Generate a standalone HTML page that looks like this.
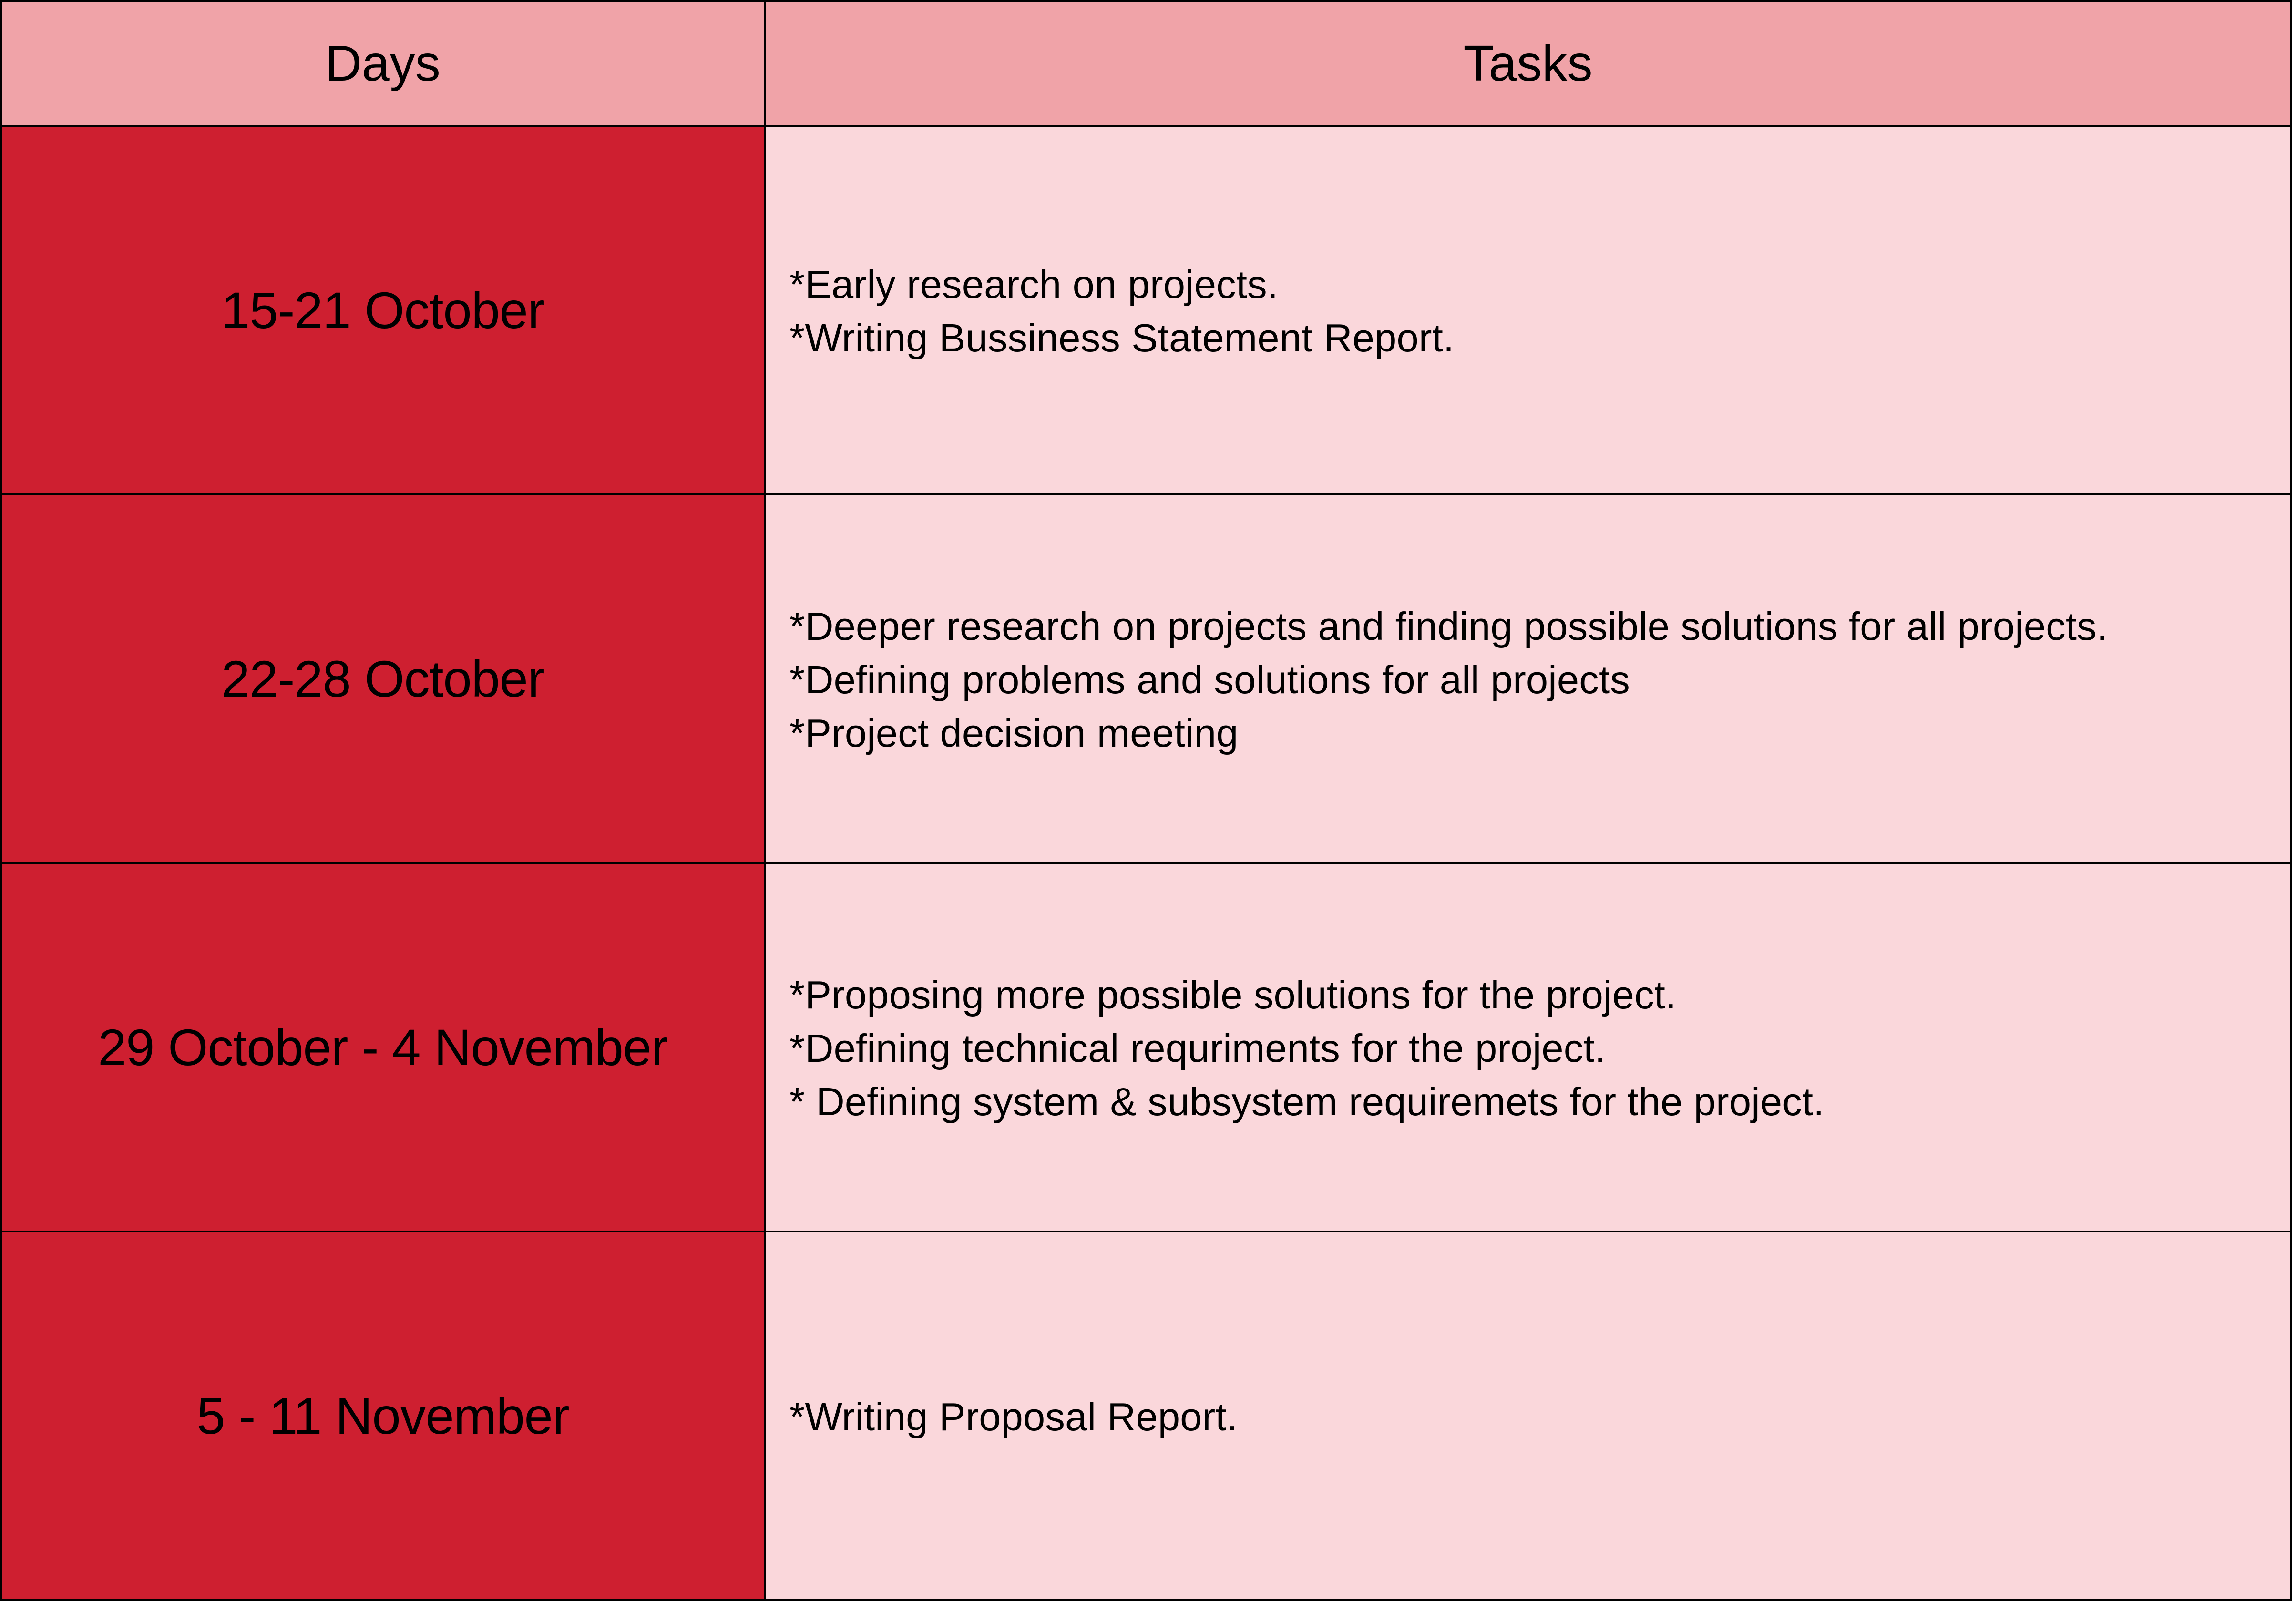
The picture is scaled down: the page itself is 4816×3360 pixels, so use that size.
<!DOCTYPE html>
<html><head><meta charset="utf-8"><style>
html,body{margin:0;padding:0;background:#fff}
body{width:4816px;height:3360px;overflow:hidden;font-family:"Liberation Sans",sans-serif;color:#000}
table{position:absolute;left:0;top:0;width:4808px;height:3356px;border-collapse:collapse;table-layout:fixed}
td,th{border:4px solid #000;padding:0}
th{height:258px;font-weight:normal;font-size:106px;background:#F0A3A8}
td.day{width:1598px;background:#CE1F30;text-align:center;font-size:108px;letter-spacing:-1px}
td.task{background:#FAD7DB;font-size:83px;line-height:112px;padding-left:50px;padding-top:4px;letter-spacing:0.2px}
tr.row{height:773px}
</style></head><body>
<table>
<tr><th style="width:1598px">Days</th><th>Tasks</th></tr>
<tr class="row"><td class="day">15-21 October</td><td class="task">*Early research on projects.<br>*Writing Bussiness Statement Report.</td></tr>
<tr class="row"><td class="day">22-28 October</td><td class="task">*Deeper research on projects and finding possible solutions for all projects.<br>*Defining problems and solutions for all projects<br>*Project decision meeting</td></tr>
<tr class="row"><td class="day">29 October - 4 November</td><td class="task">*Proposing more possible solutions for the project.<br>*Defining technical requriments for the project.<br>* Defining system &amp; subsystem requiremets for the project.</td></tr>
<tr class="row"><td class="day">5 - 11 November</td><td class="task">*Writing Proposal Report.</td></tr>
</table>
</body></html>
